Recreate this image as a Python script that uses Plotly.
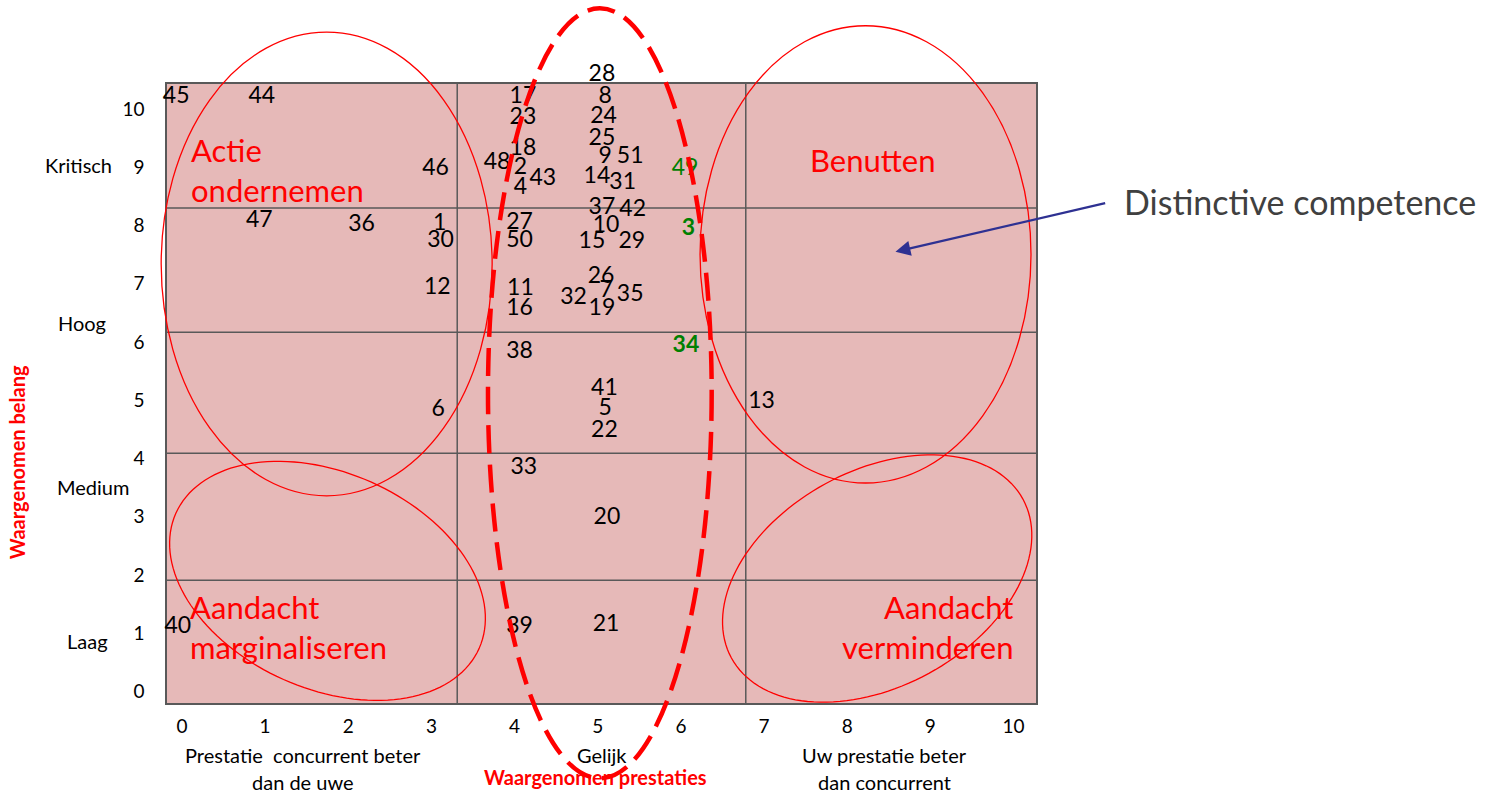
import math
import plotly.graph_objects as go

# ---------------- data ----------------
ids = list(range(1, 52))
prestatie = [3.10, 4.07, 6.09, 4.07, 5.09, 3.08, 5.10, 5.09, 5.09, 5.10,
             4.07, 3.07, 6.97, 4.99, 4.93, 4.06, 4.10, 4.10, 5.05, 5.11,
             5.10, 5.08, 4.10, 5.07, 5.05, 5.04, 4.06, 5.05, 5.41, 3.11,
             5.30, 4.71, 4.11, 6.06, 5.39, 2.16, 5.05, 4.06, 4.06, -0.05,
             5.08, 5.42, 4.34, 0.96, -0.07, 3.05, 0.93, 3.79, 6.05, 4.06,
             5.39]
belang = [8.02, 8.98, 7.93, 8.64, 4.84, 4.83, 6.88, 10.21, 9.17, 7.98,
          6.90, 6.93, 4.97, 8.83, 7.72, 6.57, 10.21, 9.31, 6.57, 2.98,
          1.14, 4.47, 9.84, 9.86, 9.48, 7.12, 8.04, 10.58, 7.72, 7.73,
          8.73, 6.75, 3.84, 5.92, 6.81, 8.01, 8.30, 5.83, 1.11, 1.11,
          5.19, 8.27, 8.80, 10.21, 10.21, 8.96, 8.08, 9.07, 8.96, 7.73,
          9.17]
green_ids = [3, 34, 49]
bold_ids = [3, 34]

x_ticks = list(range(0, 11))
y_ticks = list(range(0, 11))
y_cats = ["Kritisch", "Hoog", "Medium", "Laag"]
y_cat_x = [-1.24, -1.20, -1.07, -1.14]
y_cat_y = [9.04, 6.33, 3.51, 0.87]
x_cats = [["Prestatie  concurrent beter", "dan de uwe"], ["Gelijk"],
          ["Uw prestatie beter", "dan concurrent"]]
x_cat_pos = [1.45, 5.05, 8.45]
col_bounds = [3.31, 6.78]
row_bounds = [1.91, 4.09, 6.17, 8.30]

# ---------------- layout constants ----------------
W, H = 1494, 794
ML, MR, MT, MB = 167, 458, 84, 91          # pixel frame of the grid box
XR = [-0.18, 10.27]
YR = [-0.197, 10.43]
PW, PH = W - ML - MR, H - MT - MB
PXX = PW / (XR[1] - XR[0])
PXY = PH / (YR[1] - YR[0])
# full-page overlay axes with identical scaling
XR2 = [XR[0] - ML / PXX, XR[1] + MR / PXX]
YR2 = [YR[0] - MB / PXY, YR[1] + MT / PXY]

FONT = "Lato"
RED = "#FF0000"
GRID = "#595959"
PINK = "#E6B9B8"


def ellipse_path(cx, cy, a, b, ang):
    th = math.radians(ang)
    pts = []
    n = 140
    for i in range(n):
        t = 2 * math.pi * i / n
        dx = a * math.cos(t) * math.cos(th) - b * math.sin(t) * math.sin(th)
        dy = a * math.cos(t) * math.sin(th) + b * math.sin(t) * math.cos(th)
        pts.append((cx + dx / PXX, cy + dy / PXY))
    return "M " + " L ".join(f"{x:.4f},{y:.4f}" for x, y in pts) + " Z"


texts, colors = [], []
for i in ids:
    texts.append(f"<b>{i}</b>" if i in bold_ids else str(i))
    colors.append("#008000" if i in green_ids else "black")

fig = go.Figure()
fig.add_trace(go.Scatter(
    x=prestatie, y=belang, mode="text", text=texts, xaxis="x2", yaxis="y2",
    textposition="middle center", cliponaxis=False,
    textfont=dict(family=FONT, size=23, color=colors),
    hoverinfo="skip", showlegend=False))

shapes = [dict(type="rect", xref="x", yref="y", x0=XR[0], x1=XR[1], y0=YR[0], y1=YR[1],
               fillcolor=PINK, line=dict(width=0), layer="below")]
for c in col_bounds:
    shapes.append(dict(type="line", xref="x", yref="y", x0=c, x1=c, y0=YR[0], y1=YR[1],
                       line=dict(color=GRID, width=1.5), layer="below"))
for r in row_bounds:
    shapes.append(dict(type="line", xref="x", yref="y", x0=XR[0], x1=XR[1], y0=r, y1=r,
                       line=dict(color=GRID, width=1.5), layer="below"))

E = dict(xref="x2", yref="y2")
shapes.append(dict(type="circle", x0=-0.25, x1=3.73, y0=3.36, y1=11.32,
                   line=dict(color=RED, width=1.3), **E))
shapes.append(dict(type="circle", x0=6.23, x1=10.21, y0=3.58, y1=11.43,
                   line=dict(color=RED, width=1.3), **E))
shapes.append(dict(type="path", path=ellipse_path(1.75, 1.90, 166, 108, -24),
                   line=dict(color=RED, width=1.3), **E))
shapes.append(dict(type="path", path=ellipse_path(8.36, 1.94, 166, 108, 28.6),
                   line=dict(color=RED, width=1.3), **E))
shapes.append(dict(type="circle", x0=3.68, x1=6.37, y0=-1.49, y1=11.73,
                   line=dict(color=RED, width=4.5, dash="28px,11px"), **E))

ann = []
ann.append(dict(x=0.09, y=8.96, text="Actie<br>ondernemen", xanchor="left", align="left",
                font=dict(family=FONT, size=31, color=RED)))
ann.append(dict(x=8.31, y=9.12, text="Benutten", xanchor="center",
                font=dict(family=FONT, size=31, color=RED)))
ann.append(dict(x=0.07, y=1.11, text="Aandacht<br>marginaliseren", xanchor="left", align="left",
                font=dict(family=FONT, size=31, color=RED)))
ann.append(dict(x=10.03, y=1.11, text="Aandacht<br>verminderen", xanchor="right", align="right",
                font=dict(family=FONT, size=31, color=RED)))
for t, xv, yv in zip(y_cats, y_cat_x, y_cat_y):
    ann.append(dict(x=xv, y=yv, text=t, xanchor="center",
                    font=dict(family=FONT, size=20, color="black")))
for lines, xv in zip(x_cats, x_cat_pos):
    for k, line in enumerate(lines):
        ann.append(dict(x=xv, y=-1.09 - k * 0.46, text=line, xanchor="center",
                        font=dict(family=FONT, size=20, color="black")))
ann.append(dict(x=-1.98, y=3.94, text="<b>Waargenomen belang</b>", textangle=-90,
                font=dict(family=FONT, size=20, color=RED)))
ann.append(dict(x=4.97, y=-1.47, text="<b>Waargenomen prestaties</b>",
                font=dict(family=FONT, size=20, color=RED)))
ann.append(dict(x=11.30, y=8.42, text="Distinctive competence", xanchor="left",
                font=dict(family=FONT, size=34, color="#404040")))
ann.append(dict(x=8.58, y=7.55, ax=11.12, ay=8.39, axref="x2", ayref="y2", text="",
                showarrow=True, arrowhead=2, arrowsize=1.3, arrowwidth=2.3,
                arrowcolor="#2E3192"))
for a in ann:
    a.setdefault("xref", "x2")
    a.setdefault("yref", "y2")
    a.setdefault("showarrow", False)

axis_common = dict(showgrid=False, zeroline=False, showline=True, mirror=True,
                   linecolor=GRID, linewidth=1.5, ticks="outside",
                   tickcolor="rgba(0,0,0,0)",
                   tickfont=dict(family=FONT, size=19, color="black"))

fig.update_layout(
    width=W, height=H,
    margin=dict(l=0, r=0, t=0, b=0, pad=0),
    paper_bgcolor="white", plot_bgcolor="rgba(0,0,0,0)",
    shapes=shapes, annotations=ann, showlegend=False,
    xaxis=dict(range=XR, domain=[ML / W, (W - MR) / W], anchor="y",
               tickvals=x_ticks, ticktext=[str(v) for v in x_ticks], ticklen=5,
               **axis_common),
    yaxis=dict(range=YR, domain=[MB / H, (H - MT) / H], anchor="x",
               tickvals=y_ticks, ticktext=[str(v) for v in y_ticks], ticklen=17,
               **axis_common),
    xaxis2=dict(range=XR2, domain=[0, 1], anchor="y2", visible=False),
    yaxis2=dict(range=YR2, domain=[0, 1], anchor="x2", visible=False),
)

fig.write_html("out.html", config={"displayModeBar": False},
               post_script="document.body.style.margin='0';")
